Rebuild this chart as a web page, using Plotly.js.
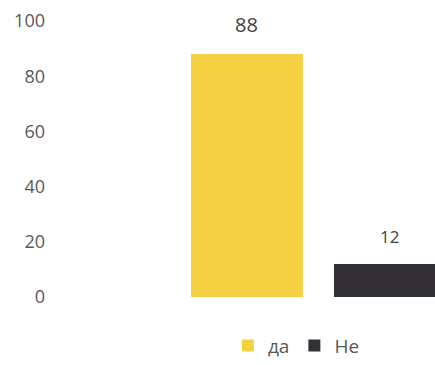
<!DOCTYPE html>
<html>
<head>
<meta charset="utf-8">
<script src="https://cdn.plot.ly/plotly-3.0.1.min.js"></script>
<style>html,body{margin:0;padding:0;background:#fff;}#chart{width:435px;height:365px;}</style>
</head>
<body>
<div id="chart"></div>
<script>
var seriesNames = ["да", "Не"];
var seriesValues = [88, 12];
var seriesColors = ["#F5D142", "#333135"];
var category = [""];
var yTicks = [0, 20, 40, 60, 80, 100];

var bargap = 0.2;
var slot = (1 - bargap) / seriesNames.length;

var traces = seriesNames.map(function (name, i) {
  return {
    type: "bar",
    name: name,
    x: category,
    y: [seriesValues[i]],
    marker: {color: seriesColors[i]},
    hoverinfo: "skip"
  };
});

var labelSizes = [20, 17];
var annotations = seriesNames.map(function (name, i) {
  return {
    xref: "x", yref: "y",
    x: -(1 - bargap) / 2 + slot * (i + 0.5),
    y: seriesValues[i],
    text: String(seriesValues[i]),
    showarrow: false,
    yanchor: "bottom",
    yshift: 14,
    font: {family: "Open Sans, sans-serif", size: labelSizes[i], color: "#404040"}
  };
});

var layout = {
  width: 435,
  height: 365,
  margin: {l: 50, r: 0, t: 21, b: 68, autoexpand: false},
  paper_bgcolor: "#ffffff",
  plot_bgcolor: "#ffffff",
  barmode: "group",
  bargap: bargap,
  bargroupgap: 0.217,
  showlegend: true,
  annotations: annotations,
  legend: {
    orientation: "h",
    x: 0.64, xanchor: "center",
    y: -0.245, yanchor: "bottom",
    font: {family: "Open Sans, sans-serif", size: 19, color: "#595959"},
    itemwidth: 30,
    traceorder: "normal"
  },
  xaxis: {
    range: [-0.751, 0.326],
    showticklabels: false,
    showgrid: false,
    zeroline: false,
    showline: false,
    ticks: ""
  },
  yaxis: {
    range: [0, 100],
    tickvals: yTicks,
    ticktext: yTicks.map(String),
    showgrid: false,
    zeroline: false,
    showline: false,
    ticks: "",
    ticklabelstandoff: 4,
    tickfont: {family: "Open Sans, sans-serif", size: 18, color: "#595959"}
  },
  font: {family: "Open Sans, sans-serif"}
};

Plotly.newPlot("chart", traces, layout, {displayModeBar: false, staticPlot: true});
</script>
</body>
</html>
